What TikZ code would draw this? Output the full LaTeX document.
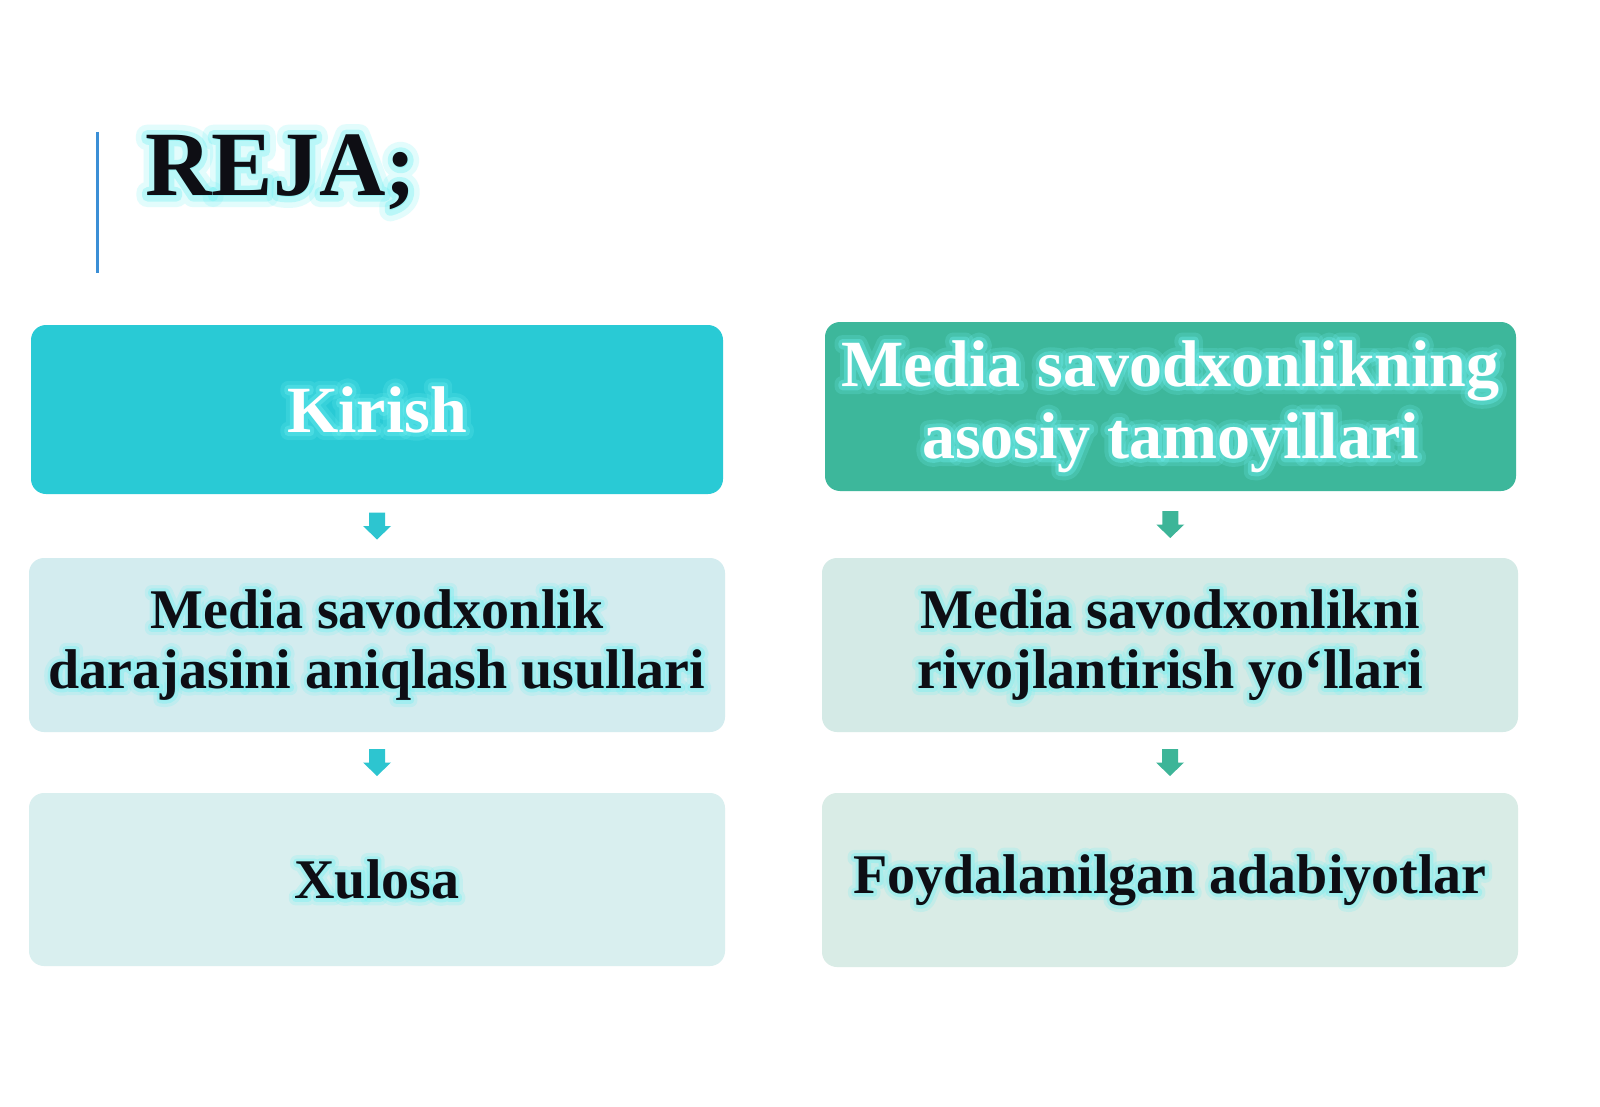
\documentclass[tikz,border=0pt]{standalone}
\usepackage{fontspec}
\setmainfont{Liberation Serif}
\usetikzlibrary{calc}
\definecolor{kir}{HTML}{29CAD5}
\definecolor{tam}{HTML}{3DB79B}
\definecolor{midL}{HTML}{D3ECEF}
\definecolor{midR}{HTML}{D4EAE6}
\definecolor{botL}{HTML}{D9EFEF}
\definecolor{botR}{HTML}{D9ECE6}
\definecolor{arrL}{HTML}{2DC5D0}
\definecolor{arrR}{HTML}{3DB598}
\definecolor{glowc}{HTML}{6FF0F2}
\definecolor{txt}{HTML}{0E0E14}
\definecolor{rule}{HTML}{3B8FD6}
\tikzset{
  box/.style={rectangle, rounded corners=7.5pt, inner sep=0pt, draw=none},
  bigtxt/.style={font=\bfseries\fontsize{33}{36}\selectfont, align=center, text=white, inner sep=0pt},
  smalltxt/.style={font=\bfseries\fontsize{28}{30}\selectfont, align=center, text=txt, inner sep=0pt},
  titletxt/.style={font=\bfseries\fontsize{46}{50}\selectfont, text=txt, inner sep=0pt},
  glowA/.style={text=glowc, text opacity=0.2, line join=round, miter limit=1, execute at begin node={\addfontfeature{FakeBold=24}}},
  glowB/.style={text=glowc, text opacity=0.35, line join=round, miter limit=1, execute at begin node={\addfontfeature{FakeBold=12}}},
  darrow/.pic={\fill (-8,-13.5) -- (8,-13.5) -- (8,0) -- (14,0) -- (0,13.5) -- (-14,0) -- (-8,0) -- cycle;}
}
\newcommand\glowat[5]{% name, anchor pos, style, anchor, text
  \node[#3, anchor=#4, glowA] (#1ga) at (#2) {#5};
  \node[#3, anchor=#4, glowB] (#1gb) at (#2) {#5};
  \node[#3, anchor=#4] (#1) at (#2) {#5};
}
\begin{document}
\begin{tikzpicture}[x=0.5pt,y=-0.5pt]
\useasboundingbox[fill=white] (0,0) rectangle (1600,1107);
% title rule
\coordinate (r1) at (97,132);
\coordinate (r2) at (97,273);
\draw[rule, line width=1.5pt] (r1) -- (r2);
\coordinate (tpos) at (145,196);
\glowat{title}{tpos}{titletxt}{base west}{REJA;}
% boxes
\node[box, fill=kir, minimum width=346pt, minimum height=84.5pt] (b1) at (377,409.5) {};
\node[box, fill=tam, minimum width=345.5pt, minimum height=84.5pt] (b2) at (1170.5,406.5) {};
\node[box, fill=midL, minimum width=348pt, minimum height=87pt] (b3) at (377,645) {};
\node[box, fill=midR, minimum width=348pt, minimum height=87pt] (b4) at (1170,645) {};
\node[box, fill=botL, minimum width=348pt, minimum height=86.5pt] (b5) at (377,879.5) {};
\node[box, fill=botR, minimum width=348pt, minimum height=87pt] (b6) at (1170,880) {};
% texts
\glowat{t1}{b1.center}{bigtxt}{center}{Kirish}
\glowat{t2}{b2.center}{bigtxt}{center}{Media savodxonlikning\\asosiy tamoyillari}
\glowat{t3}{b3.center}{smalltxt}{center}{Media savodxonlik\\darajasini aniqlash usullari}
\glowat{t4}{b4.center}{smalltxt}{center}{Media savodxonlikni\\rivojlantirish yo‘llari}
\glowat{t5}{b5.center}{smalltxt}{center}{Xulosa}
\glowat{t6}{b6.center}{smalltxt}{center}{Foydalanilgan adabiyotlar}
% arrows
\coordinate (a1) at ($(b1.south)!0.5!(b3.north)$);
\coordinate (a2) at ($(b3.south)!0.5!(b5.north)$);
\coordinate (a3) at ($(b2.south)!0.5!(b4.north)$);
\coordinate (a4) at ($(b4.south)!0.5!(b6.north)$);
\pic[fill=arrL] at (a1) {darrow};
\pic[fill=arrL] at (a2) {darrow};
\pic[fill=arrR] at (a3) {darrow};
\pic[fill=arrR] at (a4) {darrow};
\end{tikzpicture}
\end{document}
